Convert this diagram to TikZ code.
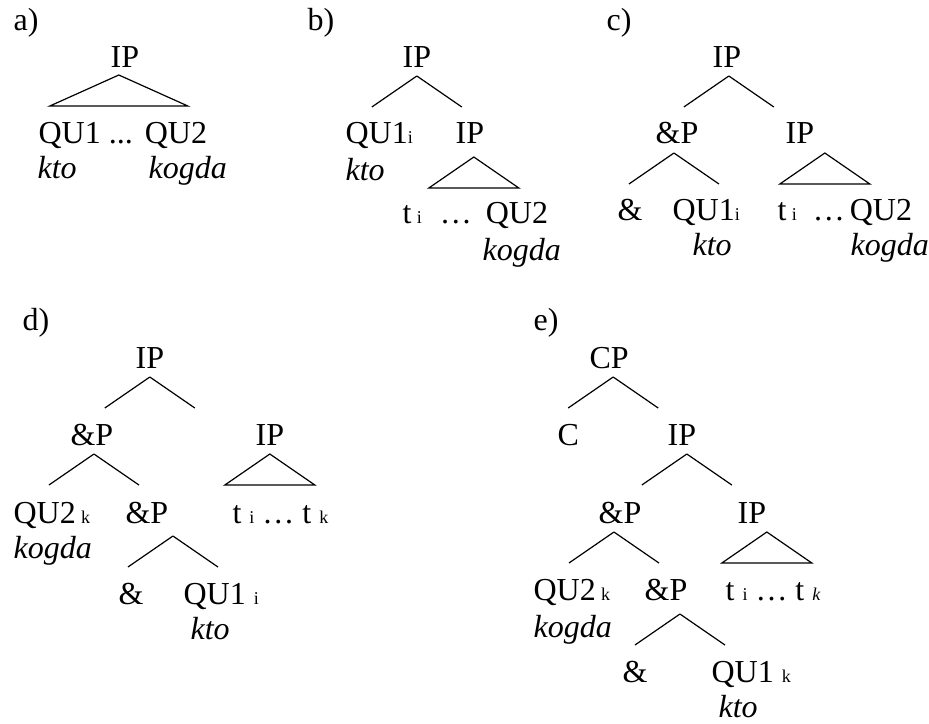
\documentclass[tikz,border=0pt]{standalone}
\usepackage{fontspec}
\setmainfont{Liberation Serif}
\usetikzlibrary{calc}

\newcommand\subsc[1]{{\fontsize{9}{11}\selectfont #1}}

\begin{document}
\begin{tikzpicture}[
      x=0.5pt, y=-0.5pt, line width=0.6pt,
      lbl/.style={anchor=base west, inner sep=0pt, font=\fontsize{16}{19}\selectfont},
      gloss/.style={lbl, font=\fontsize{16}{19}\selectfont\itshape},
      brgap/.store in=\brgap, brgap=9,
      brdx/.store in=\brdx, brdx=0,
      trw/.store in=\trw, trw=45,
      lbr/.style={to path={($(\tikztostart.base)+(\brdx,\brgap)$) -- ++(-45,31)}},
      rbr/.style={to path={($(\tikztostart.base)+(\brdx,\brgap)$) -- ++(45,31)}},
      tri/.style={to path={($(\tikztostart.base)+(\brdx,\brgap)$) -- ++(-\trw,31) -- ++(2*\trw,0) -- cycle}}
    ]
    \useasboundingbox (0,0) rectangle (929,723);

    \node[lbl] (la) at (13,30) {a)};
    \node[lbl] (ipA) at (110,67) {IP};
    \node[lbl] (quA) at (38,143) {QU1 ...\hskip6pt QU2};
    \node[gloss] (ktoA) at (37,178) {kto};
    \node[gloss] (kogA) at (148,178) {kogda};
    \draw[brgap=8, brdx=-6, trw=69] (ipA) to[tri] (quA);

    \node[lbl] (lb) at (307,30) {b)};
    \node[lbl] (ipB) at (402,67) {IP};
    \node[lbl] (quB) at (345,143) {QU1\subsc{i}};
    \node[lbl] (ipB2) at (455,143) {IP};
    \node[gloss] (ktoB) at (345,180) {kto};
    \node[lbl] (trB) at (402,223) {t\,\subsc{i}\hskip9pt…\hskip7pt QU2};
    \node[gloss] (kogB) at (482,260) {kogda};
    \draw (ipB) to[lbr] (quB) (ipB) to[rbr] (ipB2);
    \draw[brgap=14, brdx=4] (ipB2) to[tri] (trB);

    \node[lbl] (lc) at (606,30) {c)};
    \node[lbl] (ipC) at (712,67) {IP};
    \node[lbl] (amC) at (655,143) {\&P};
    \node[lbl] (ipC2) at (785,143) {IP};
    \node[lbl] (andC) at (617,220) {\&};
    \node[lbl] (quC) at (672,220) {QU1\subsc{i}};
    \node[lbl] (trC) at (777,220) {t\,\subsc{i}\hskip8pt…\hskip2.5pt QU2};
    \node[gloss] (ktoC) at (692,255) {kto};
    \node[gloss] (kogC) at (850,255) {kogda};
    \draw[brdx=2] (ipC) to[lbr] (amC) (ipC) to[rbr] (ipC2);
    \draw[brgap=10, brdx=-3] (amC) to[lbr] (andC) (amC) to[rbr] (quC);
    \draw[brgap=10, brdx=25] (ipC2) to[tri] (trC);

    \node[lbl] (ld) at (22,330) {d)};
    \node[lbl] (ipD) at (135,368) {IP};
    \node[lbl] (amD) at (70,445) {\&P};
    \node[lbl] (ipD2) at (255,445) {IP};
    \node[lbl] (quD) at (13,523) {QU2\,\subsc{k}};
    \node[lbl] (amD2) at (125,523) {\&P};
    \node[lbl] (trD) at (232,523) {t \subsc{i} … t \subsc{k}};
    \node[gloss] (kogD) at (13,558) {kogda};
    \node[lbl] (andD) at (118,604) {\&};
    \node[lbl] (quD2) at (183,604) {QU1 \subsc{i}};
    \node[gloss] (ktoD) at (190,639) {kto};
    \draw (ipD) to[lbr] (amD) (ipD) to[rbr] (ipD2);
    \draw[brdx=2] (amD) to[lbr] (quD) (amD) to[rbr] (amD2);
    \draw (ipD2) to[tri] (trD);
    \draw[brgap=13, brdx=26] (amD2) to[lbr] (andD) (amD2) to[rbr] (quD2);

    \node[lbl] (le) at (533,330) {e)};
    \node[lbl] (cpE) at (589,368) {CP};
    \node[lbl] (cE) at (557,445) {C};
    \node[lbl] (ipE) at (667,445) {IP};
    \node[lbl] (amE) at (598,523) {\&P};
    \node[lbl] (ipE2) at (737,523) {IP};
    \node[lbl] (quE) at (533,600) {QU2\,\subsc{k}};
    \node[lbl] (amE2) at (644,600) {\&P};
    \node[lbl] (trE) at (725,600) {t \subsc{i} … t \subsc{\itshape k}};
    \node[gloss] (kogE) at (533,637) {kogda};
    \node[lbl] (andE) at (622,682) {\&};
    \node[lbl] (quE2) at (711,682) {QU1 \subsc{k}};
    \node[gloss] (ktoE) at (718,717) {kto};
    \draw[brdx=4] (cpE) to[lbr] (cE) (cpE) to[rbr] (ipE);
    \draw[brdx=5] (ipE) to[lbr] (amE) (ipE) to[rbr] (ipE2);
    \draw[brdx=-6] (amE) to[lbr] (quE) (amE) to[rbr] (amE2);
    \draw[brdx=15] (ipE2) to[tri] (trE);
    \draw[brgap=14, brdx=14] (amE2) to[lbr] (andE) (amE2) to[rbr] (quE2);
  \end{tikzpicture}
\end{document}
